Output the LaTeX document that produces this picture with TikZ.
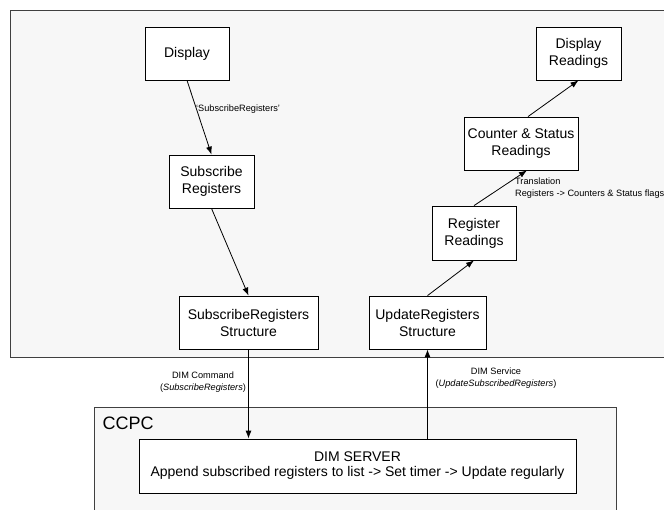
\documentclass[tikz,border=0pt]{standalone}
\usepackage{fontspec}
\setmainfont{Liberation Sans}
\usetikzlibrary{arrows.meta}
\definecolor{panel}{RGB}{247,247,247}
\definecolor{frameline}{RGB}{64,64,64}

\begin{document}
\begin{tikzpicture}[x=1pt,y=-1pt]
  \tikzstyle{every node}=[font=\fontsize{14}{17}\selectfont]
  \tikzstyle{box}=[draw,fill=white,line width=0.8pt,align=center,inner sep=0pt,minimum height=53pt]
  \tikzstyle{note}=[font=\fontsize{9.2}{12}\selectfont,inner sep=0pt]
  \tikzstyle{flow}=[line width=0.8pt,-{Latex[length=8pt,width=6pt]}]
  \clip (0,0) rectangle (664,510);
  \fill [white] (0,0) rectangle (664,510);
  % the two frames
  \draw [frameline,fill=panel,line width=0.8pt] (10,10) rectangle (680,357);
  \draw [frameline,fill=panel,line width=0.8pt] (94,407) rectangle (616,530);
  \node [anchor=west,font=\fontsize{18}{20}\selectfont] (ccpc) at (99,423) {CCPC};
  % subscribe side
  \node [box,minimum width=84pt] (disp) at (187,53.5) {Display};
  \node [box,minimum width=85pt] (subreg) at (211.5,181.5) {Subscribe\\Registers};
  \node [box,minimum width=139pt] (srstruct) at (248.5,322.5) {SubscribeRegisters\\Structure};
  % update side
  \node [box,minimum width=117pt] (urstruct) at (427.5,322.5) {UpdateRegisters\\Structure};
  \node [box,minimum width=84pt,minimum height=54pt] (regread) at (474,233) {Register\\Readings};
  \node [box,minimum width=114pt] (counter) at (521,143.5) {Counter \& Status\\Readings};
  \node [box,minimum width=85pt] (dispread) at (578.5,53.5) {Display\\Readings};
  % server
  \node [box,minimum width=437pt,minimum height=54pt,font=\fontsize{14}{15}\selectfont] (dimsrv) at (357.5,466)
    {DIM SERVER\\Append subscribed registers to list -> Set timer -> Update regularly};
  % labels
  \node [note,anchor=west] (lblsub) at (196,109) {`SubscribeRegisters'};
  \node [note,anchor=north west,align=left] (lbltrans) at (515,178)
    {Translation\\Registers -> Counters \& Status flags};
  \node [note,align=center] (lblcmd) at (203,382) {DIM Command\\({\itshape SubscribeRegisters})};
  \node [note,align=center] (lblsrv) at (496,378) {DIM Service\\({\itshape UpdateSubscribedRegisters})};
  % arrows
  \draw [flow] (disp.south) -- (subreg.north);
  \draw [flow] (subreg.south) -- (srstruct.north);
  \draw [flow] (srstruct.south) -- (srstruct.south |- dimsrv.north);
  \draw [flow] (urstruct.south |- dimsrv.north) -- (urstruct.south);
  \draw [flow] (urstruct.north) -- (regread.south);
  \draw [flow] (regread.north) -- ([xshift=6pt]counter.south);
  \draw [flow] ([xshift=7pt]counter.north) -- (dispread.south);
\end{tikzpicture}
\end{document}
